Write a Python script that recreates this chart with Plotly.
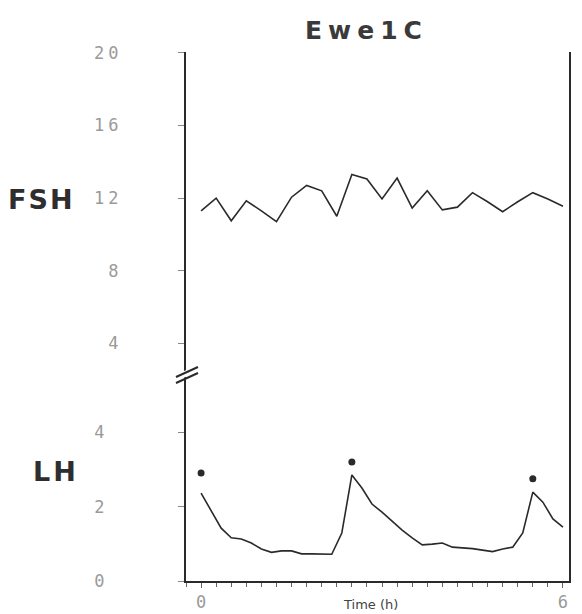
import plotly.graph_objects as go

# ---- data ----
fsh_time = [0, 0.25, 0.5, 0.75, 1.0, 1.25, 1.5, 1.75, 2.0, 2.25, 2.5, 2.75, 3.0,
            3.25, 3.5, 3.75, 4.0, 4.25, 4.5, 4.75, 5.0, 5.25, 5.5, 5.75, 6.0]
fsh_vals = [11.3, 12.0, 10.75, 11.85, 11.3, 10.7, 12.05, 12.7, 12.4, 11.0, 13.3, 13.05, 11.95,
            13.1, 11.45, 12.4, 11.35, 11.5, 12.3, 11.8, 11.25, 11.8, 12.3, 11.95, 11.55]

lh_time = [i / 6 for i in range(37)]
lh_vals = [2.36, 1.88, 1.42, 1.16, 1.13, 1.02, 0.86, 0.77, 0.81, 0.81, 0.73, 0.73, 0.73,
           0.72, 1.29, 2.85, 2.50, 2.07, 1.85, 1.61, 1.37, 1.16, 0.97, 0.99, 1.02, 0.91,
           0.90, 0.87, 0.83, 0.79, 0.86, 0.91, 1.29, 2.39, 2.12, 1.67, 1.45]

pulse_time = [0, 2.5, 5.5]
pulse_mark = [2.9, 3.2, 2.75]

fsh_ticks = [4, 8, 12, 16, 20]
lh_ticks = [0, 2, 4]
x_ticks = [0, 6]

W, H = 582, 614
L, R, T, B = 186, 13, 52, 33
plot_h = H - T - B
brk_px = 375
split = (H - B - brk_px) / plot_h

ink = "#2a2a2a"
tickfont = dict(family="DejaVu Sans Mono", size=17, color="#9a9a9a")

def spaced(v, sp=4):
    return f'<span style="letter-spacing:{sp}px">{v}</span>'

fig = go.Figure()
fig.add_trace(go.Scatter(x=fsh_time, y=fsh_vals, mode="lines", yaxis="y2",
                         line=dict(color=ink, width=1.6), showlegend=False))
fig.add_trace(go.Scatter(x=lh_time, y=lh_vals, mode="lines", yaxis="y",
                         line=dict(color=ink, width=1.6, shape="linear"), showlegend=False))
fig.add_trace(go.Scatter(x=pulse_time, y=pulse_mark, mode="markers", yaxis="y",
                         marker=dict(symbol="circle", size=7, color=ink), showlegend=False))

fig.update_layout(
    width=W, height=H,
    margin=dict(l=L, r=R, t=T, b=B, autoexpand=False),
    paper_bgcolor="white", plot_bgcolor="white",
    xaxis=dict(range=[-0.25, 6.1], showgrid=False, zeroline=False,
               showline=True, linecolor=ink, linewidth=2,
               tickvals=x_ticks, ticktext=[str(v) for v in x_ticks],
               ticks="outside", ticklen=5, tickcolor="#666", tickfont=tickfont,
               minor=dict(dtick=0.25, tick0=0, ticks="outside", ticklen=4, tickcolor="#666"),
               anchor="y", automargin=False),
    yaxis=dict(domain=[0, split], range=[0, (H - B - brk_px) / 37.2],
               showgrid=False, zeroline=False, automargin=False,
               showline=True, linecolor=ink, linewidth=2, mirror=True,
               tickvals=lh_ticks, ticktext=[str(v) for v in lh_ticks],
               ticks="outside", ticklen=6, tickcolor="#888",
               tickfont=tickfont, ticklabelstandoff=70),
    yaxis2=dict(domain=[split, 1], range=[12 - (brk_px - 197) / 18.25, 12 + (197 - T + 2) / 18.25],
                showgrid=False, zeroline=False, automargin=False,
                showline=True, linecolor=ink, linewidth=2, mirror=True,
                tickvals=fsh_ticks, ticktext=[spaced(v) for v in fsh_ticks],
                ticks="outside", ticklen=6, tickcolor="#888",
                tickfont=tickfont, ticklabelstandoff=52, anchor="x"),
)

def px(xp):
    return (xp - L) / (W - L - R)

def py(yp):
    return (H - B - yp) / plot_h

# axis break mark
fig.add_shape(type="line", xref="paper", yref="paper", x0=px(176), y0=py(378), x1=px(198), y1=py(368),
              line=dict(color="white", width=6))
for dy in (0, 6):
    fig.add_shape(type="line", xref="paper", yref="paper",
                  x0=px(176), y0=py(377 + dy), x1=px(198), y1=py(367 + dy),
                  line=dict(color=ink, width=2))

fig.add_annotation(text='<b><span style="letter-spacing:6px">Ewe1C</span></b>',
                   xref="paper", yref="paper", x=px(366), y=py(30),
                   xanchor="center", yanchor="middle",
                   showarrow=False, font=dict(family="DejaVu Sans", size=25, color="#3a3a3a"))
fig.add_annotation(text='<b><span style="letter-spacing:2px">FSH</span></b>',
                   xref="paper", yref="paper", x=px(41), y=py(199),
                   xanchor="center", yanchor="middle",
                   showarrow=False, font=dict(family="DejaVu Sans", size=27, color="#2e2e2e"))
fig.add_annotation(text='<b><span style="letter-spacing:3px">LH</span></b>',
                   xref="paper", yref="paper", x=px(56), y=py(471),
                   xanchor="center", yanchor="middle",
                   showarrow=False, font=dict(family="DejaVu Sans", size=27, color="#2e2e2e"))
fig.add_annotation(text="Time (h)", xref="paper", yref="paper", x=px(370), y=py(614),
                   xanchor="center", yanchor="bottom", showarrow=False,
                   font=dict(family="DejaVu Sans", size=13, color="#444"))

fig.write_html("out.html")
